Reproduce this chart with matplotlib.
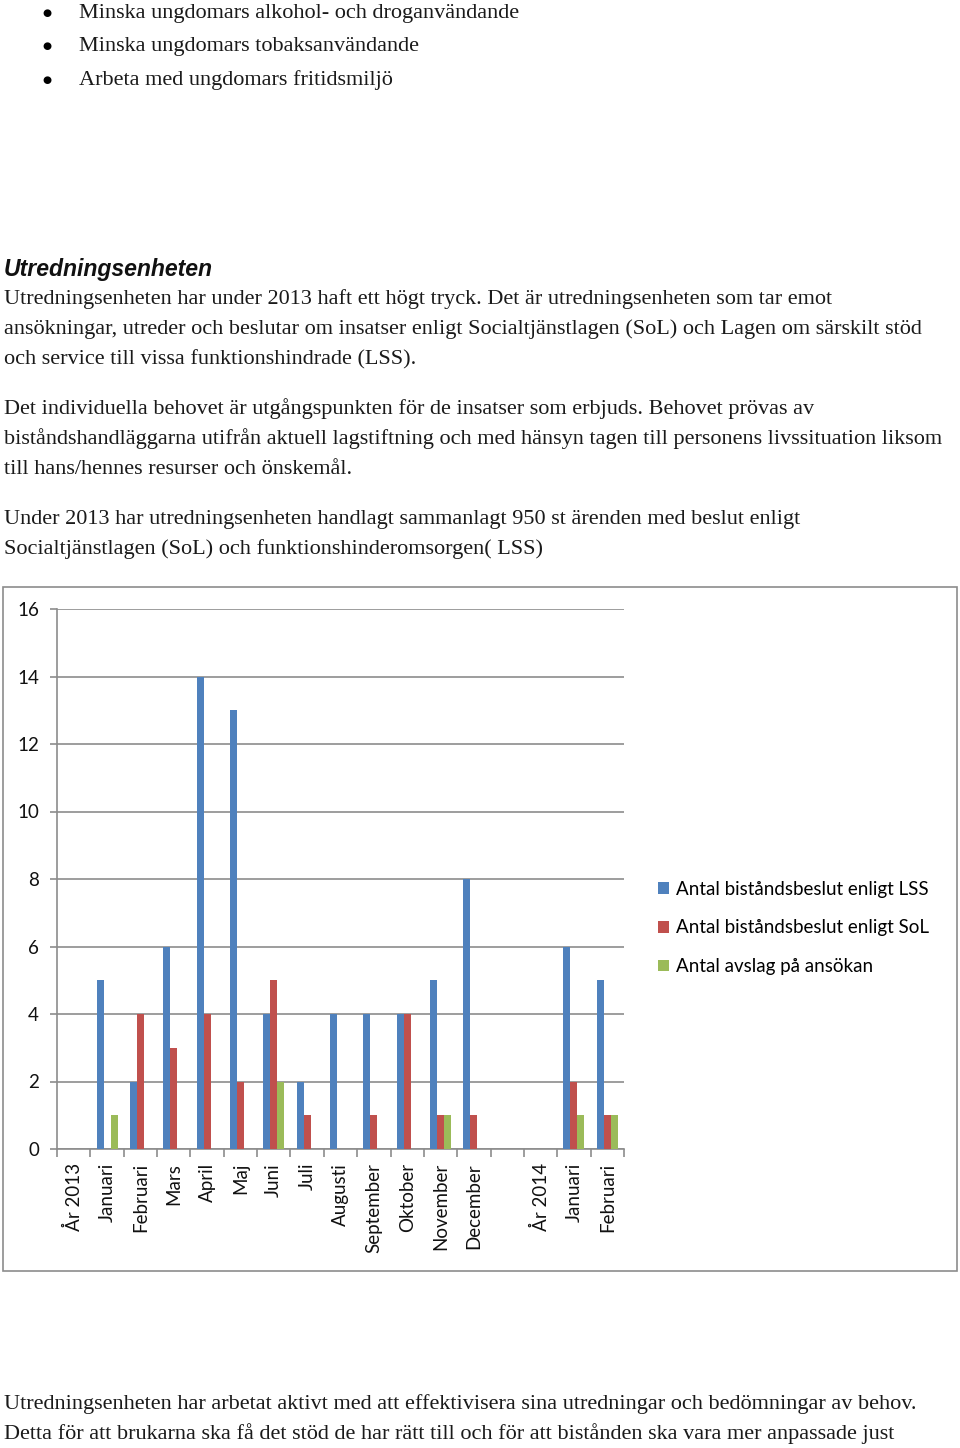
import matplotlib.pyplot as plt
from matplotlib.patches import Rectangle
import numpy as np

# chart data
months = ['År 2013', 'Januari', 'Februari', 'Mars', 'April', 'Maj', 'Juni', 'Juli',
          'Augusti', 'September', 'Oktober', 'November', 'December', '',
          'År 2014', 'Januari', 'Februari']
lss = [0, 5, 2, 6, 14, 13, 4, 2, 4, 4, 4, 5, 8, 0, 0, 6, 5]
sol = [0, 0, 4, 3, 4, 2, 5, 1, 0, 1, 4, 1, 1, 0, 0, 2, 1]
avslag = [0, 1, 0, 0, 0, 0, 2, 0, 0, 0, 0, 1, 0, 0, 0, 1, 1]
series_names = ['Antal biståndsbeslut enligt LSS',
                'Antal biståndsbeslut enligt SoL',
                'Antal avslag på ansökan']
colors = ['#4F81BD', '#C0504D', '#9BBB59']

bullets = ['Minska ungdomars alkohol- och droganvändande',
           'Minska ungdomars tobaksanvändande',
           'Arbeta med ungdomars fritidsmiljö']
heading = 'Utredningsenheten'
para_lines = [
    'Utredningsenheten har under 2013 haft ett högt tryck. Det är utredningsenheten som tar emot',
    'ansökningar, utreder och beslutar om insatser enligt Socialtjänstlagen (SoL) och Lagen om särskilt stöd',
    'och service till vissa funktionshindrade (LSS).',
    None,
    'Det individuella behovet är utgångspunkten för de insatser som erbjuds. Behovet prövas av',
    'biståndshandläggarna utifrån aktuell lagstiftning och med hänsyn tagen till personens livssituation liksom',
    'till hans/hennes resurser och önskemål.',
    None,
    'Under 2013 har utredningsenheten handlagt sammanlagt 950 st ärenden med beslut enligt',
    'Socialtjänstlagen (SoL) och funktionshinderomsorgen( LSS)',
]
bottom_lines = [
    'Utredningsenheten har arbetat aktivt med att effektivisera sina utredningar och bedömningar av behov.',
    'Detta för att brukarna ska få det stöd de har rätt till och för att bistånden ska vara mer anpassade just',
]

W, H = 960, 1448
fig = plt.figure(figsize=(W / 100, H / 100), dpi=100)
txtcol = '#1a1a1a'
serif = 'Liberation Serif'
bsize = 16.0


def fy(py):
    return 1 - py / H


# page text
for i, b in enumerate(bullets):
    y = fy(12 + 33.5 * i + 6)
    fig.text(42 / W, fy(12 + 33.5 * i + 4), '●', family='DejaVu Sans', fontsize=7.5,
             color='#000000', va='baseline')
    fig.text(79 / W, y, b, family=serif, fontsize=bsize, color=txtcol, va='baseline')

fig.text(4 / W, fy(268 + 8), heading, family='Liberation Sans', fontsize=16.6,
         weight='bold', style='italic', color='#111111', va='baseline')

y0 = 298
for line in para_lines:
    if line is not None:
        fig.text(4 / W, fy(y0 + 6), line, family=serif, fontsize=bsize, color=txtcol, va='baseline')
        y0 += 30
    else:
        y0 += 20

for i, line in enumerate(bottom_lines):
    fig.text(4 / W, fy(1403 + 30 * i + 6), line, family=serif, fontsize=bsize, color=txtcol, va='baseline')

# chart frame
fig.patches.append(Rectangle((3 / W, fy(1271)), 954 / W, (1271 - 587) / H,
                             transform=fig.transFigure, fill=False,
                             edgecolor='#8c8c8c', lw=1.2))

ax = fig.add_axes([57 / W, fy(1149), (624 - 57) / W, (1149 - 609) / H])
x = np.arange(len(months))
w = 0.21
for k, (vals, name, c) in enumerate(zip([lss, sol, avslag], series_names, colors)):
    ax.bar(x + (k - 1) * w, vals, width=w, color=c, label=name, zorder=3)

ax.set_xlim(-0.5, len(months) - 0.5)
ax.set_ylim(0, 16)
ax.set_yticks(range(0, 17, 2))
ax.yaxis.grid(True, color='#8c8c8c', lw=1.2, zorder=0)
for s in ['top', 'right']:
    ax.spines[s].set_visible(False)
for s in ['left', 'bottom']:
    ax.spines[s].set_color('#8c8c8c')
    ax.spines[s].set_linewidth(1.2)

chart_font = 'Lato'
ax.set_xticks(x)
ax.set_xticklabels(months, rotation=90, family=chart_font, fontsize=13.5, color='#111111')
ax.tick_params(axis='x', length=0, pad=10)
ax.set_xticks(np.arange(-0.5, len(months)), minor=True)
ax.tick_params(axis='x', which='minor', length=6, color='#8c8c8c', width=1.2)
ax.tick_params(axis='y', length=5, color='#8c8c8c', width=1.2, pad=8,
               labelsize=13.5, labelcolor='#111111')
for t in ax.get_yticklabels():
    t.set_family(chart_font)

ax.legend(loc='center left', bbox_to_anchor=(641 / W, fy(928)), bbox_transform=fig.transFigure,
          frameon=False, prop={'family': chart_font, 'size': 13.5},
          handlelength=0.6, handleheight=0.6, handletextpad=0.35, labelspacing=1.15)

fig.savefig('out.png', dpi=100)
